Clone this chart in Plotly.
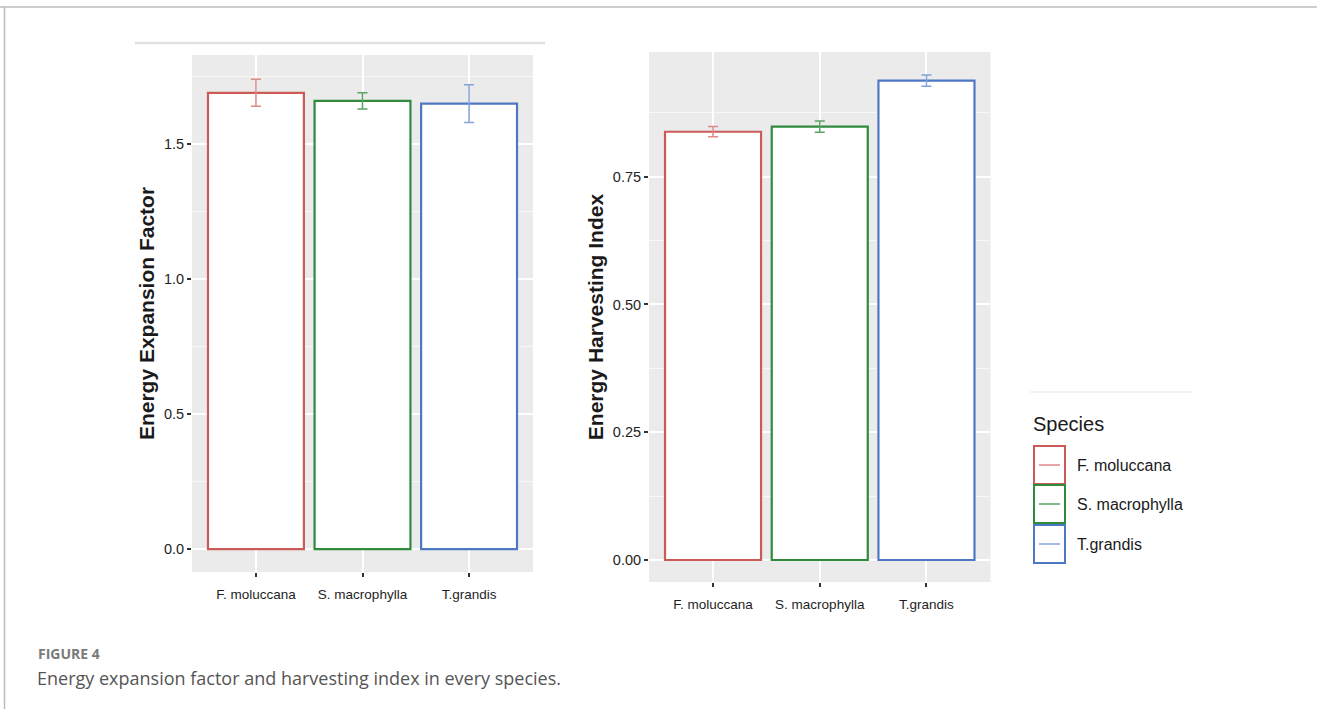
import plotly.graph_objects as go

# Species and their mean values with standard errors
species = ["F. moluccana", "S. macrophylla", "T.grandis"]
eef_mean = [1.69, 1.66, 1.65]
eef_err = [0.05, 0.03, 0.07]
ehi_mean = [0.838, 0.848, 0.938]
ehi_err = [0.010, 0.011, 0.011]

# Colour per species: bar outline and error bar
outline_colors = ["#cc5a57", "#2f8a3c", "#4f78c4"]
err_colors = ["#dc8a88", "#5aa464", "#86a2d8"]

W, H = 1317, 709


def px_x(v):
    return v / W


def px_y(v):
    return 1 - v / H


fig = go.Figure()

for i, name in enumerate(species):
    fig.add_trace(go.Bar(
        x=[name], y=[eef_mean[i]], width=0.9,
        marker=dict(color="white", line=dict(color=outline_colors[i], width=2.2)),
        error_y=dict(type="data", array=[eef_err[i]], color=err_colors[i],
                     thickness=1.5, width=5),
        xaxis="x", yaxis="y", showlegend=False,
    ))
    fig.add_trace(go.Bar(
        x=[name], y=[ehi_mean[i]], width=0.9,
        marker=dict(color="white", line=dict(color=outline_colors[i], width=2.2)),
        error_y=dict(type="data", array=[ehi_err[i]], color=err_colors[i],
                     thickness=1.5, width=5),
        xaxis="x2", yaxis="y2", showlegend=False,
    ))

tick_font = dict(family="Liberation Sans, Arial", size=14.5, color="#1e1e1e")
xtick_font = dict(family="Liberation Sans, Arial", size=13.5, color="#1e1e1e")
title_font = dict(family="Liberation Sans, Arial", size=21, color="#1a1a1a")

common_x = dict(type="category", range=[-0.6, 2.6], showgrid=True,
                gridcolor="white", gridwidth=1.6, ticks="outside", ticklen=4,
                tickwidth=1.5, tickcolor="#333", tickfont=xtick_font,
                ticklabelstandoff=6,
                showline=False, zeroline=False, automargin=False,
                categoryorder="array", categoryarray=species)
common_y = dict(showgrid=True, gridcolor="white", gridwidth=1.6, ticks="outside",
                ticklen=4, tickwidth=1.5, tickcolor="#333", tickfont=tick_font,
                showline=False, zeroline=False, automargin=False,
                minor=dict(showgrid=True, gridcolor="#f7f7f7", gridwidth=0.8))

fig.update_layout(
    width=W, height=H,
    margin=dict(l=0, r=0, t=0, b=0),
    paper_bgcolor="white",
    plot_bgcolor="#ebebeb",
    barmode="overlay",
    xaxis=dict(common_x, domain=[px_x(192), px_x(533)], anchor="y"),
    yaxis=dict(common_y, domain=[px_y(572), px_y(55)], anchor="x",
               range=[-0.085, 1.83], tickvals=[0, 0.5, 1.0, 1.5],
               tickformat=".1f", minor=dict(common_y["minor"], dtick=0.25, tick0=0),
               title=dict(text="<b>Energy Expansion Factor</b>", font=title_font,
                          standoff=3)),
    xaxis2=dict(common_x, domain=[px_x(649), px_x(990.5)], anchor="y2"),
    yaxis2=dict(common_y, domain=[px_y(582), px_y(52)], anchor="x2",
                range=[-0.043, 0.994], tickvals=[0, 0.25, 0.5, 0.75],
                tickformat=".2f", minor=dict(common_y["minor"], dtick=0.125, tick0=0),
                title=dict(text="<b>Energy Harvesting Index</b>", font=title_font,
                           standoff=3)),
)

shapes = [
    # page frame lines
    dict(type="line", xref="paper", yref="paper", x0=0, x1=1,
         y0=px_y(7), y1=px_y(7), line=dict(color="#bdbdbd", width=1.5)),
    dict(type="line", xref="paper", yref="paper", x0=px_x(4.5), x1=px_x(4.5),
         y0=0, y1=px_y(7), line=dict(color="#bdbdbd", width=1.5)),
    # faint rule above the left panel
    dict(type="line", xref="paper", yref="paper", x0=px_x(135), x1=px_x(545),
         y0=px_y(43), y1=px_y(43), line=dict(color="#e2e2e2", width=2.5)),
    # faint rule above the legend
    dict(type="line", xref="paper", yref="paper", x0=px_x(1030), x1=px_x(1192),
         y0=px_y(392), y1=px_y(392), line=dict(color="#f2f2f2", width=2)),
]

annotations = [
    dict(text="Species", xref="paper", yref="paper", x=px_x(1031), y=px_y(424),
         xanchor="left", yanchor="middle", showarrow=False,
         font=dict(family="Liberation Sans, Arial", size=20, color="#1a1a1a")),
    dict(text="<b>FIGURE 4</b>", xref="paper", yref="paper", x=px_x(36), y=px_y(653),
         xanchor="left", yanchor="middle", showarrow=False,
         font=dict(family="Open Sans", size=14, color="#7a7a7a")),
    dict(text="Energy expansion factor and harvesting index in every species.",
         xref="paper", yref="paper", x=px_x(35), y=px_y(678),
         xanchor="left", yanchor="middle", showarrow=False,
         font=dict(family="Open Sans", size=18, color="#555555")),
]

# Legend keys drawn as outlined boxes with a short error-bar stroke inside
key_top = [446, 485, 525]
key_h = 38
for i, name in enumerate(species):
    y0 = key_top[i]
    y1 = y0 + key_h
    yc = (y0 + y1) / 2
    shapes.append(dict(type="rect", xref="paper", yref="paper",
                       x0=px_x(1034), x1=px_x(1065), y0=px_y(y1), y1=px_y(y0),
                       line=dict(color=outline_colors[i], width=2),
                       fillcolor="white"))
    shapes.append(dict(type="line", xref="paper", yref="paper",
                       x0=px_x(1039), x1=px_x(1060), y0=px_y(yc), y1=px_y(yc),
                       line=dict(color=err_colors[i], width=1.5)))
    annotations.append(dict(text=name, xref="paper", yref="paper",
                            x=px_x(1075), y=px_y(yc), xanchor="left",
                            yanchor="middle", showarrow=False,
                            font=dict(family="Liberation Sans, Arial", size=16,
                                      color="#1a1a1a")))

fig.update_layout(shapes=shapes, annotations=annotations)

fig.write_html("out.html")
